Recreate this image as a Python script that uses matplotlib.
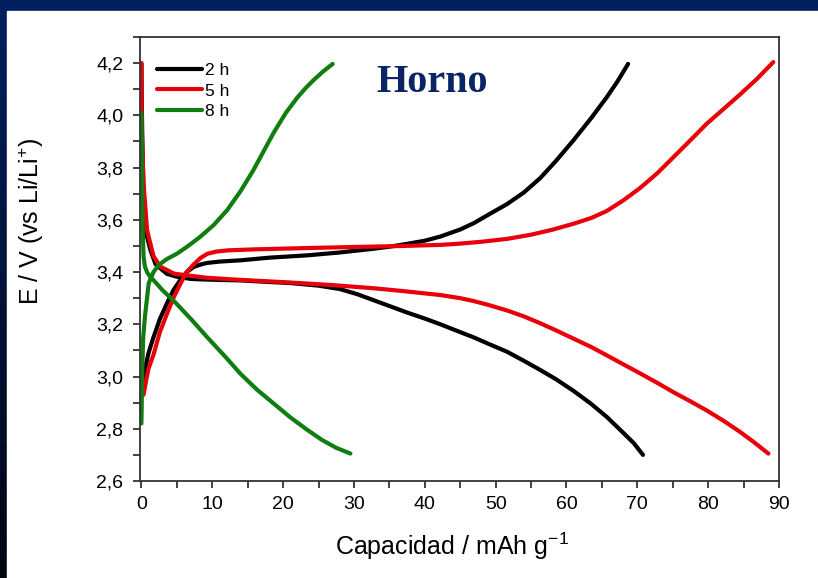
import numpy as np
import matplotlib.pyplot as plt
from matplotlib.ticker import MultipleLocator, FuncFormatter
from matplotlib.patches import Rectangle

# Charge / discharge curves, capacity in mAh/g and potential in V
cap_2h_ch = [0.2, 0.6, 1.0, 1.7, 2.6, 3.6, 4.5, 5.5, 6.4, 7.4, 8.5, 9.3, 11.0, 14.0,
             18.0, 23.4, 28.0, 32.7, 35.0, 37.5, 40.0, 42.2, 45.0, 46.9, 49.0, 51.6,
             54.0, 56.3, 58.5, 61.0, 63.5, 65.7, 67.2, 68.7]
v_2h_ch = [2.97, 3.04, 3.09, 3.15, 3.22, 3.28, 3.33, 3.37, 3.40, 3.42, 3.43, 3.435, 3.44, 3.445,
           3.455, 3.464, 3.475, 3.489, 3.497, 3.508, 3.52, 3.536, 3.563, 3.587, 3.62, 3.66,
           3.705, 3.76, 3.825, 3.905, 3.99, 4.07, 4.13, 4.197]

cap_2h_dis = [0.0, 0.05, 0.15, 0.3, 0.56, 0.8, 1.27, 2.0, 2.68, 3.6, 5.03, 6.9, 8.3, 11.0,
              14.0, 18.0, 21.0, 25.0, 28.0, 30.5, 32.8, 35.0, 37.5, 40.0, 42.2, 45.0,
              46.9, 49.0, 51.6, 54.0, 56.3, 58.5, 61.0, 63.5, 65.7, 68.0, 69.5, 70.8]
v_2h_dis = [4.20, 4.05, 3.87, 3.70, 3.573, 3.534, 3.484, 3.43, 3.414, 3.393, 3.382, 3.374, 3.372, 3.37,
            3.368, 3.362, 3.358, 3.348, 3.335, 3.315, 3.292, 3.27, 3.245, 3.222, 3.2, 3.17,
            3.15, 3.125, 3.095, 3.06, 3.025, 2.99, 2.945, 2.895, 2.845, 2.785, 2.745, 2.70]

cap_5h_ch = [0.3, 0.7, 1.0, 1.74, 2.6, 3.6, 4.5, 5.5, 6.4, 7.4, 8.4, 9.3, 10.5, 12.1,
             16.0, 23.4, 30.0, 37.0, 42.2, 45.0, 48.0, 51.6, 55.0, 58.0, 61.0, 63.5,
             65.7, 68.0, 70.4, 72.8, 75.1, 77.5, 79.8, 82.2, 84.5, 86.9, 89.2]
v_5h_ch = [2.93, 2.99, 3.03, 3.087, 3.17, 3.24, 3.30, 3.355, 3.40, 3.43, 3.455, 3.47, 3.478, 3.483,
           3.487, 3.492, 3.496, 3.5, 3.504, 3.509, 3.516, 3.527, 3.543, 3.562, 3.585, 3.607,
           3.634, 3.674, 3.722, 3.778, 3.84, 3.905, 3.968, 4.025, 4.08, 4.14, 4.204]

cap_5h_dis = [0.0, 0.05, 0.3, 0.8, 1.5, 1.74, 2.7, 3.6, 4.6, 5.97, 9.3, 14.0, 21.0, 27.0,
              32.8, 37.0, 42.2, 45.0, 46.9, 49.0, 51.6, 54.0, 56.3, 58.5, 61.0, 63.5, 65.7,
              68.0, 70.4, 72.8, 75.1, 77.5, 79.8, 82.2, 84.5, 86.5, 88.5]
v_5h_dis = [4.20, 3.95, 3.74, 3.56, 3.483, 3.459, 3.42, 3.408, 3.394, 3.389, 3.378, 3.37, 3.36, 3.35,
            3.338, 3.327, 3.312, 3.3, 3.289, 3.274, 3.253, 3.23, 3.204, 3.177, 3.145, 3.113, 3.081,
            3.047, 3.012, 2.976, 2.94, 2.905, 2.87, 2.83, 2.788, 2.748, 2.705]

cap_8h_ch = [0.0, 0.1, 0.25, 0.5, 1.03, 1.7, 2.44, 3.6, 5.0, 6.6, 8.3, 10.2, 12.1, 14.0,
             15.8, 17.2, 18.7, 20.4, 22.0, 23.2, 24.3, 25.6, 27.0]
v_8h_ch = [2.82, 3.00, 3.15, 3.23, 3.357, 3.40, 3.427, 3.45, 3.47, 3.50, 3.535, 3.58, 3.637, 3.71,
           3.79, 3.86, 3.935, 4.01, 4.068, 4.105, 4.135, 4.167, 4.197]

cap_8h_dis = [0.0, 0.05, 0.1, 0.2, 0.3, 0.5, 0.8, 1.27, 1.74, 3.0, 4.56, 7.0, 9.3, 11.7,
              14.0, 16.3, 18.7, 21.0, 23.4, 25.5, 27.5, 29.5]
v_8h_dis = [4.01, 3.85, 3.70, 3.55, 3.46, 3.42, 3.40, 3.38, 3.368, 3.33, 3.29, 3.22, 3.15, 3.08,
            3.01, 2.95, 2.896, 2.844, 2.796, 2.757, 2.727, 2.705]

labels = ['2 h', '5 h', '8 h']
colors = ['#000000', '#e8000b', '#0f7d0f']

plt.rcParams['font.family'] = ['Liberation Sans', 'DejaVu Sans']
plt.rcParams['mathtext.fontset'] = 'custom'
plt.rcParams['mathtext.rm'] = 'Liberation Sans'
plt.rcParams['mathtext.it'] = 'Liberation Sans'

fig = plt.figure(figsize=(8.18, 5.78), dpi=100)

# dark blue frame fading towards black, with the white slide panel on top
bg = fig.add_axes([0, 0, 1, 1], zorder=-10)
grad = np.linspace(0, 1, 256)[:, None]
top_col = np.array([0.0, 0.125, 0.376])
bot_col = np.array([0.0, 0.02, 0.07])
img = (top_col[None, None, :] * (1 - grad[:, :, None]) + bot_col[None, None, :] * grad[:, :, None])
bg.imshow(img, aspect='auto', extent=[0, 1, 0, 1])
bg.add_patch(Rectangle((7 / 818, 0), 1, 1 - 11 / 578, color='white', transform=bg.transAxes))
bg.set_xlim(0, 1)
bg.set_ylim(0, 1)
bg.axis('off')

ax = fig.add_axes([140 / 818, 1 - 481 / 578, (779 - 140) / 818, (481 - 37) / 578])
ax.set_facecolor('white')

curves = [(cap_2h_ch, v_2h_ch, cap_2h_dis, v_2h_dis),
          (cap_5h_ch, v_5h_ch, cap_5h_dis, v_5h_dis),
          (cap_8h_ch, v_8h_ch, cap_8h_dis, v_8h_dis)]

for i, (xc, yc, xd, yd) in enumerate(curves):
    ax.plot(xc, yc, color=colors[i], lw=3.0, label=labels[i], solid_capstyle='round', solid_joinstyle='round')
    ax.plot(xd, yd, color=colors[i], lw=3.0, solid_capstyle='round', solid_joinstyle='round')

ax.set_xlim(-0.2, 90)
ax.set_ylim(2.6, 4.3)
ax.xaxis.set_major_locator(MultipleLocator(10))
ax.xaxis.set_minor_locator(MultipleLocator(5))
ax.yaxis.set_major_locator(MultipleLocator(0.2))
ax.yaxis.set_minor_locator(MultipleLocator(0.1))
ax.yaxis.set_major_formatter(FuncFormatter(lambda v, p: f'{v:.1f}'.replace('.', ',')))
ax.tick_params(which='both', direction='out', top=False, right=False, labelsize=14,
               width=1.3, length=5, color='#333333')
ax.tick_params(axis='x', which='major', pad=6)
ax.tick_params(axis='y', which='major', pad=7)
for s in ax.spines.values():
    s.set_linewidth(1.3)
    s.set_color('#333333')

ax.set_xlabel('Capacidad / mAh g$^{-1}$', fontsize=18)
ax.set_ylabel('E / V (vs Li/Li$^{+}$)', fontsize=18)
ax.xaxis.set_label_coords(0.488, -0.112)
ax.yaxis.set_label_coords(-0.147, 0.585)

ax.legend(loc='upper left', frameon=False, fontsize=12.5, handlelength=2.6, handletextpad=0.15,
          labelspacing=0.3, borderaxespad=0, bbox_to_anchor=(0.016, 0.957))

ax.text(0.457, 0.876, 'Horno', transform=ax.transAxes, ha='center', va='baseline',
        fontsize=29, fontweight='bold', color='#0b2466', family='Liberation Serif')

fig.savefig('out.png', dpi=100)
